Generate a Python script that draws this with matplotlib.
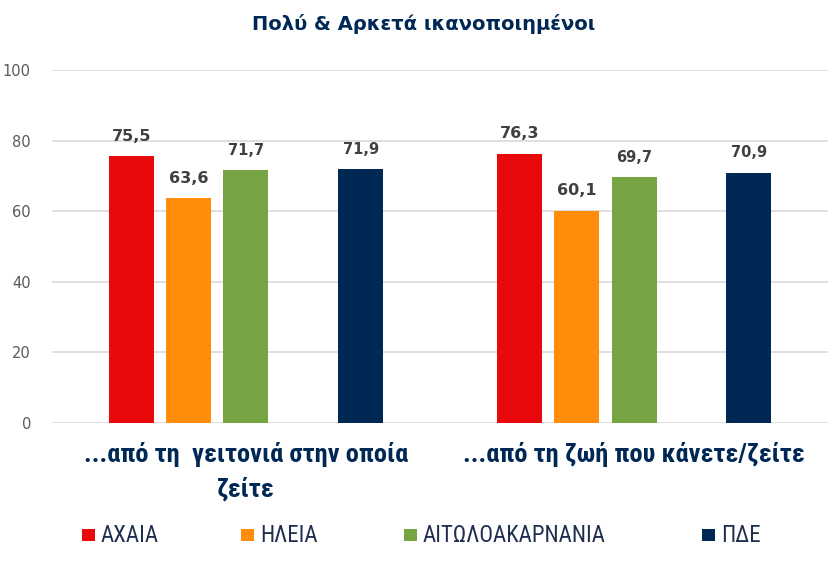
import matplotlib.pyplot as plt
from matplotlib import font_manager
from matplotlib.patches import Rectangle
import numpy as np

categories = ["...από τη  γειτονιά στην οποία\nζείτε", "...από τη ζωή που κάνετε/ζείτε"]
series = ["ΑΧΑΙΑ", "ΗΛΕΙΑ", "ΑΙΤΩΛΟΑΚΑΡΝΑΝΙΑ", "ΠΔΕ"]
values = {
    "ΑΧΑΙΑ": [75.5, 76.3],
    "ΗΛΕΙΑ": [63.6, 60.1],
    "ΑΙΤΩΛΟΑΚΑΡΝΑΝΙΑ": [71.7, 69.7],
    "ΠΔΕ": [71.9, 70.9],
}
colors = ["#E8090B", "#FF8C0A", "#76A443", "#002855"]
# slot offsets (an empty slot sits between the third series and ΠΔΕ)
slots = [-2, -1, 0, 2]
label_sizes = [11.5, 11.5, 10.5, 10.5]

installed = {f.name for f in font_manager.fontManager.ttflist}
narrow = [f for f in ["Liberation Sans Narrow", "DejaVu Sans Condensed", "Roboto Condensed"]
          if f in installed]
narrow = (narrow[:1] or ["DejaVu Sans"]) + ["DejaVu Sans"]

fig = plt.figure(figsize=(8.35, 5.63), dpi=100)
ax = fig.add_axes([0.062, 0.2487, 0.930, 0.627])

x = np.arange(len(categories))
step = 0.1478
width = 0.1157
for name, col, s, fs in zip(series, colors, slots, label_sizes):
    pos = x + s * step
    bars = ax.bar(pos, values[name], width=width, color=col, zorder=3)
    for b, v in zip(bars, values[name]):
        ax.text(b.get_x() + b.get_width() / 2, v + 3.5, f"{v:.1f}".replace(".", ","),
                ha="center", va="bottom", fontsize=fs, fontweight="bold",
                color="#404040", family="DejaVu Sans")

ax.set_xlim(-0.5, 1.5)
ax.set_ylim(0, 100)
ax.set_yticks(range(0, 101, 20))
ax.yaxis.grid(True, color="#D9D9D9", linewidth=1.2, zorder=0)
for sp in ax.spines.values():
    sp.set_visible(False)
ax.tick_params(axis="y", length=0, pad=15, labelsize=10.5, labelcolor="#595959")
ax.set_xticks(x)
ax.set_xticklabels(categories, fontsize=19, fontweight="bold", color="#002855",
                   family=narrow, linespacing=1.5)
ax.tick_params(axis="x", length=0, pad=14)

fig.text(0.507, 0.957, "Πολύ & Αρκετά ικανοποιημένοι", ha="center", va="center",
         fontsize=14, fontweight="bold", color="#002855", family="DejaVu Sans")

# legend
leg_x = [82, 241, 404, 702]
yc = 535
for name, col, lx in zip(series, colors, leg_x):
    fig.patches.append(Rectangle((lx / 835, 1 - (yc + 6) / 563), 13 / 835, 12 / 563,
                                 transform=fig.transFigure, facecolor=col, edgecolor="none"))
    fig.text((lx + 19) / 835, 1 - yc / 563, name, color="#1F2D4F", fontsize=16.5, ha="left",
             va="center", family=narrow)

fig.savefig("out.png", dpi=100)
